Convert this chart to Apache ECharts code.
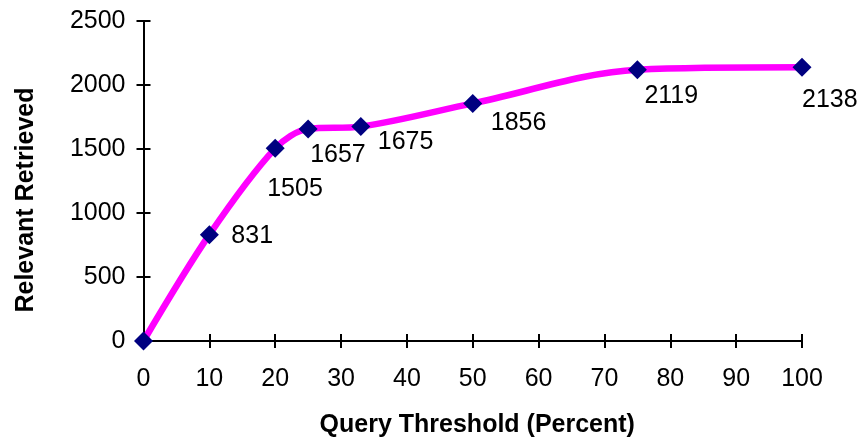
<!DOCTYPE html>
<html>
<head>
<meta charset="utf-8">
<script src="https://cdn.jsdelivr.net/npm/echarts@6/dist/echarts.min.js"></script>
<style>
  html, body { margin: 0; padding: 0; background: #fff; }
  #chart { width: 862px; height: 438px; }
</style>
</head>
<body>
<div id="chart"></div>
<script>
// Query threshold (percent) against relevant documents retrieved
const thresholds = [0, 10, 20, 25, 33, 50, 75, 100];
const relevantRetrieved = [0, 831, 1505, 1657, 1675, 1856, 2119, 2138];
const xTicks = [0, 10, 20, 30, 40, 50, 60, 70, 80, 90, 100];
const yTicks = [0, 500, 1000, 1500, 2000, 2500];

// where each value label sits relative to its marker (px); none on the origin
const labelNudge = [null, [22, 1], [-8, 41], [2, 26], [17, 16], [18, 20], [7, 26], [0, 33]];

const FONT = 'Liberation Sans, Arial, sans-serif';
const axisLine = { show: true, lineStyle: { color: '#000', width: 2 } };
const tickStyle = { color: '#000', width: 2 };

const points = thresholds.map((t, i) => {
  const item = { value: [t, relevantRetrieved[i]] };
  if (labelNudge[i]) {
    item.label = { show: true, offset: labelNudge[i] };
  }
  return item;
});

const xBase = {
  type: 'value', min: xTicks[0], max: xTicks[xTicks.length - 1],
  interval: xTicks[1] - xTicks[0], splitLine: { show: false }
};
const yBase = {
  type: 'value', min: yTicks[0], max: yTicks[yTicks.length - 1],
  interval: yTicks[1] - yTicks[0], splitLine: { show: false }
};
const plain = v => String(v);

const chart = echarts.init(document.getElementById('chart'), null, { renderer: 'canvas' });
chart.setOption({
  animation: false,
  backgroundColor: '#fff',
  grid: { left: 143.5, right: 60, top: 21, bottom: 97, containLabel: false, outerBoundsMode: 'none' },
  xAxis: [
    Object.assign({}, xBase, {
      position: 'bottom',
      axisLine: axisLine,
      axisTick: { show: true, length: 7, lineStyle: tickStyle },
      axisLabel: { color: '#000', fontFamily: FONT, fontSize: 25, margin: 26, formatter: plain },
      name: 'Query Threshold (Percent)',
      nameLocation: 'middle',
      nameGap: 72,
      nameTextStyle: { color: '#000', fontFamily: FONT, fontSize: 25, fontWeight: 'bold', padding: [0, 0, 0, 9] }
    }),
    Object.assign({}, xBase, {
      position: 'bottom',
      axisLine: { show: false },
      axisTick: { show: true, inside: true, length: 7, lineStyle: tickStyle },
      axisLabel: { show: false }
    })
  ],
  yAxis: [
    Object.assign({}, yBase, {
      position: 'left',
      axisLine: axisLine,
      axisTick: { show: true, length: 7, lineStyle: tickStyle },
      axisLabel: { color: '#000', fontFamily: FONT, fontSize: 25, margin: 18, formatter: plain },
      name: 'Relevant Retrieved',
      nameLocation: 'middle',
      nameGap: 105,
      nameRotate: 90,
      nameTextStyle: { color: '#000', fontFamily: FONT, fontSize: 25, fontWeight: 'bold', padding: [0, 38, 0, 0] }
    }),
    Object.assign({}, yBase, {
      position: 'left',
      axisLine: { show: false },
      axisTick: { show: true, inside: true, length: 7, lineStyle: tickStyle },
      axisLabel: { show: false }
    })
  ],
  series: [{
    type: 'line',
    xAxisIndex: 0,
    yAxisIndex: 0,
    data: points,
    smooth: 0.32,
    lineStyle: { color: '#FF00FF', width: 6.5 },
    symbol: 'diamond',
    symbolSize: 19,
    itemStyle: { color: '#000080' },
    label: {
      show: false,
      position: 'inside',
      align: 'left',
      verticalAlign: 'middle',
      color: '#000',
      fontFamily: FONT,
      fontSize: 25,
      formatter: p => String(p.value[1])
    },
    z: 3
  }]
});
</script>
</body>
</html>
